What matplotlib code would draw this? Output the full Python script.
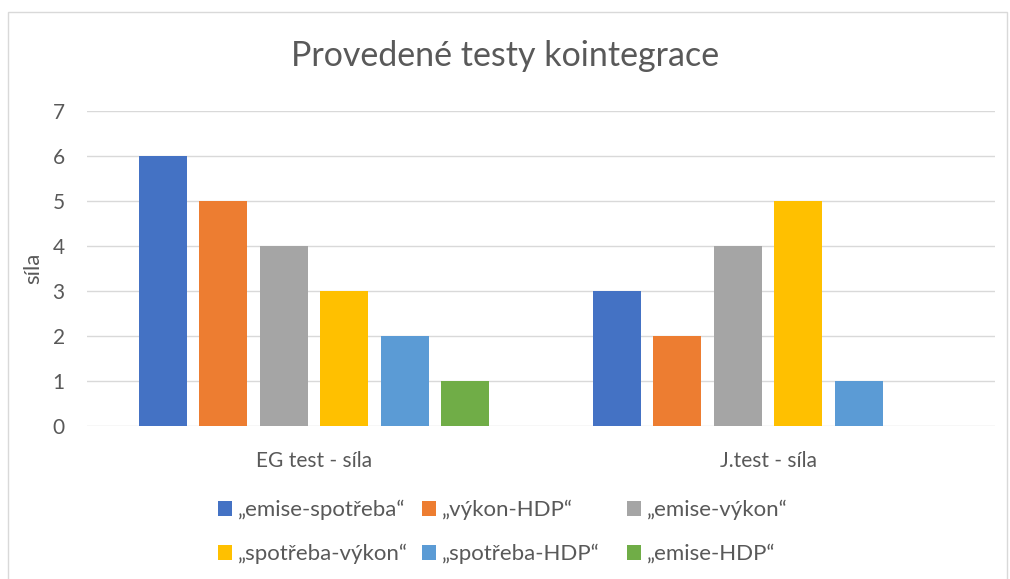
import matplotlib.pyplot as plt
import matplotlib.patches as patches
import numpy as np

categories = ['EG test - síla', 'J.test - síla']
series_names = ['„emise-spotřeba“', '„výkon-HDP“', '„emise-výkon“',
                '„spotřeba-výkon“', '„spotřeba-HDP“', '„emise-HDP“']
values = [
    [6, 3],
    [5, 2],
    [4, 4],
    [3, 5],
    [2, 1],
    [1, 0],
]
colors = ['#4472C4', '#ED7D31', '#A5A5A5', '#FFC000', '#5B9BD5', '#70AD47']

plt.rcParams['font.family'] = ['Lato', 'DejaVu Sans']
txt = '#595959'

fig = plt.figure(figsize=(10.1, 5.79), dpi=100)
fig.patches.append(patches.Rectangle((8 / 1010, -0.01), 999 / 1010, 1 - 12 / 579 + 0.01,
                                     transform=fig.transFigure, fill=False,
                                     edgecolor='#D9D9D9', linewidth=1))
ax = fig.add_axes([87 / 1010, (579 - 426) / 579, 908 / 1010, 315 / 579])

x = np.arange(len(categories))
pitch = 0.1333
width = 0.1057
n = len(series_names)
bars = []
for i, (name, vals, c) in enumerate(zip(series_names, values, colors)):
    b = ax.bar(x + (i - (n - 1) / 2) * pitch, vals, width, color=c, label=name, zorder=3)
    bars.append(b)

ax.set_xlim(-0.5, 1.5)
ax.set_ylim(0, 7)
ax.set_yticks(range(8))
ax.set_xticks(x)
ax.set_xticklabels(categories)
ax.grid(axis='y', color='#D9D9D9', linewidth=1, zorder=0)
for s in ax.spines.values():
    s.set_visible(False)
ax.tick_params(length=0, labelsize=15, labelcolor=txt)
ax.tick_params(axis='y', pad=16)
ax.tick_params(axis='x', pad=18)
ax.set_ylabel('síla', fontsize=16, color=txt)
ax.yaxis.set_label_coords(-44 / 908, 0.5)

fig.text(0.5, 1 - 56 / 579, 'Provedené testy kointegrace', ha='center', va='center',
         fontsize=24.5, color=txt)

# legend: three equal-width columns, row-wise order like Excel
col_x = [218, 422, 627]
for j in range(3):
    leg = fig.legend([bars[j], bars[j + 3]], [series_names[j], series_names[j + 3]],
                     loc='center left', bbox_to_anchor=(col_x[j] / 1010, 1 - 532 / 579),
                     frameon=False, fontsize=16, labelcolor=txt, handlelength=0.63,
                     handleheight=0.63, handletextpad=0.25, labelspacing=1.07,
                     borderpad=0, borderaxespad=0)

fig.savefig('out.png', dpi=100)
